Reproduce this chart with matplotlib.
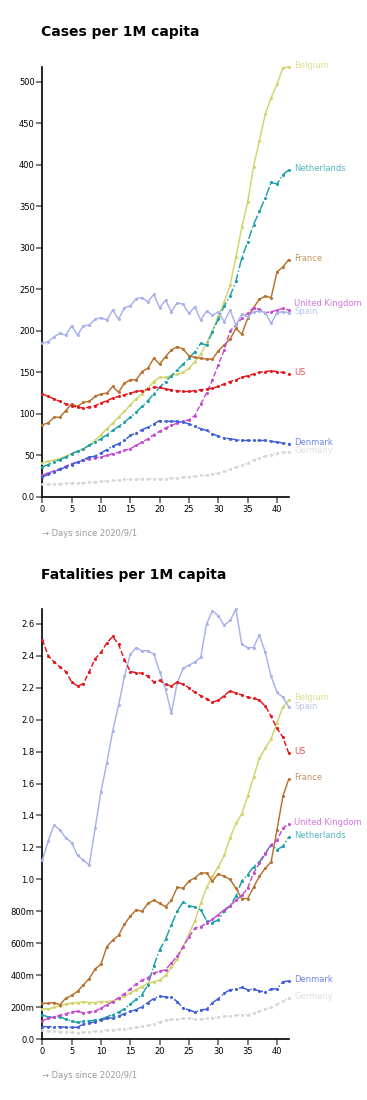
import numpy as np
import matplotlib
matplotlib.use("Agg")
import matplotlib.pyplot as plt
from matplotlib.ticker import FuncFormatter, MultipleLocator

days = np.arange(43)

countries = ["Belgium", "Netherlands", "France", "United Kingdom", "Spain", "US", "Denmark", "Germany"]

cases_belgium = [41, 43, 44, 46, 49, 52, 55, 58, 62, 68, 75, 82, 89, 96, 103, 111, 118, 124, 131, 139,
                 144, 144, 146, 148, 150, 155, 163, 172, 185, 200, 218, 235, 255, 289, 325, 355, 398,
                 429, 461, 481, 497, 517, 518]
cases_netherlands = [36, 39, 42, 45, 48, 52, 55, 58, 62, 66, 70, 75, 80, 85, 90, 96, 102, 109, 116, 124,
                     132, 139, 146, 153, 160, 167, 175, 185, 183, 199, 214, 230, 242, 260, 288, 307, 328,
                     344, 360, 379, 377, 388, 394]
cases_france = [87, 89, 96, 96, 104, 112, 109, 114, 115, 121, 124, 125, 133, 126, 137, 141, 141, 151, 155,
                167, 160, 169, 177, 181, 178, 170, 168, 167, 166, 166, 176, 183, 190, 203, 196, 215, 228,
                238, 242, 240, 271, 277, 286]
cases_uk = [26, 29, 31, 34, 37, 40, 42, 44, 46, 47, 48, 50, 52, 54, 56, 58, 62, 66, 70, 75, 79, 83, 86,
            89, 91, 93, 98, 112, 125, 141, 159, 177, 200, 207, 215, 221, 228, 226, 222, 223, 225, 227, 225]
cases_spain = [185, 187, 193, 197, 195, 206, 195, 206, 207, 214, 216, 213, 225, 214, 228, 230, 239, 240,
               235, 244, 228, 237, 223, 234, 232, 221, 229, 213, 224, 219, 223, 211, 225, 207, 220, 217,
               223, 224, 222, 209, 222, 223, 222]
cases_us = [124, 121, 118, 115, 112, 110, 108, 107, 108, 110, 113, 116, 119, 121, 123, 125, 127, 128, 130,
            132, 132, 130, 129, 128, 127, 127, 128, 129, 130, 131, 133, 136, 139, 141, 144, 146, 148, 150,
            151, 152, 151, 150, 148]
cases_denmark = [24, 27, 30, 33, 36, 39, 42, 45, 48, 49, 53, 57, 61, 64, 68, 74, 77, 81, 84, 88, 92, 91,
                 91, 91, 90, 88, 85, 82, 80, 76, 73, 71, 70, 69, 68, 68, 68, 68, 68, 67, 66, 65, 64]
cases_germany = [15, 15, 16, 16, 17, 17, 17, 17, 18, 18, 19, 19, 20, 20, 21, 21, 21, 22, 22, 22, 22, 22,
                 23, 23, 24, 24, 25, 26, 26, 27, 29, 31, 33, 36, 38, 41, 45, 47, 49, 51, 53, 54, 54]

fat_belgium = [0.19, 0.19, 0.20, 0.21, 0.22, 0.225, 0.23, 0.234, 0.23, 0.23, 0.236, 0.236, 0.24, 0.255,
               0.27, 0.29, 0.31, 0.33, 0.35, 0.36, 0.37, 0.40, 0.45, 0.50, 0.58, 0.66, 0.74, 0.85, 0.95,
               1.02, 1.08, 1.15, 1.26, 1.35, 1.41, 1.52, 1.64, 1.76, 1.82, 1.88, 1.98, 2.08, 2.12]
fat_netherlands = [0.152, 0.14, 0.14, 0.14, 0.125, 0.115, 0.105, 0.115, 0.115, 0.12, 0.125, 0.14, 0.155,
                   0.17, 0.19, 0.22, 0.25, 0.28, 0.34, 0.46, 0.56, 0.626, 0.716, 0.80, 0.86, 0.835, 0.827,
                   0.81, 0.743, 0.73, 0.747, 0.80, 0.835, 0.894, 0.99, 1.03, 1.08, 1.11, 1.165, 1.217,
                   1.186, 1.207, 1.265]
fat_france = [0.225, 0.225, 0.23, 0.215, 0.257, 0.274, 0.30, 0.34, 0.38, 0.44, 0.47, 0.58, 0.62, 0.65,
              0.72, 0.77, 0.81, 0.80, 0.85, 0.87, 0.85, 0.83, 0.87, 0.95, 0.945, 0.99, 1.01, 1.04, 1.04,
              0.99, 1.035, 1.02, 1.0, 0.945, 0.88, 0.88, 0.95, 1.02, 1.07, 1.11, 1.31, 1.52, 1.627]
fat_uk = [0.117, 0.13, 0.14, 0.15, 0.16, 0.17, 0.175, 0.165, 0.17, 0.175, 0.195, 0.215, 0.235, 0.26,
          0.285, 0.315, 0.345, 0.37, 0.385, 0.415, 0.425, 0.435, 0.476, 0.52, 0.58, 0.64, 0.695, 0.705,
          0.727, 0.75, 0.78, 0.81, 0.835, 0.87, 0.90, 0.945, 1.04, 1.10, 1.16, 1.217, 1.244, 1.32, 1.348]
fat_spain = [1.12, 1.24, 1.34, 1.31, 1.26, 1.23, 1.15, 1.12, 1.09, 1.32, 1.55, 1.73, 1.93, 2.09, 2.27,
             2.41, 2.45, 2.43, 2.43, 2.41, 2.30, 2.19, 2.04, 2.23, 2.32, 2.34, 2.36, 2.39, 2.60, 2.68,
             2.65, 2.59, 2.62, 2.69, 2.47, 2.45, 2.45, 2.53, 2.42, 2.27, 2.17, 2.14, 2.08]
fat_us = [2.50, 2.40, 2.36, 2.33, 2.30, 2.235, 2.21, 2.225, 2.30, 2.38, 2.42, 2.48, 2.52, 2.47, 2.375,
          2.30, 2.294, 2.29, 2.27, 2.235, 2.245, 2.22, 2.21, 2.235, 2.22, 2.20, 2.17, 2.15, 2.13, 2.11,
          2.12, 2.15, 2.18, 2.165, 2.155, 2.14, 2.135, 2.12, 2.085, 2.02, 1.945, 1.89, 1.79]
fat_denmark = [0.079, 0.079, 0.078, 0.078, 0.075, 0.075, 0.075, 0.095, 0.10, 0.11, 0.12, 0.13, 0.135,
               0.145, 0.16, 0.175, 0.185, 0.205, 0.23, 0.255, 0.27, 0.265, 0.262, 0.236, 0.194, 0.184,
               0.17, 0.184, 0.188, 0.23, 0.253, 0.288, 0.31, 0.313, 0.324, 0.31, 0.313, 0.303, 0.294,
               0.315, 0.315, 0.36, 0.365]
fat_germany = [0.055, 0.052, 0.05, 0.048, 0.045, 0.043, 0.042, 0.044, 0.047, 0.05, 0.054, 0.058, 0.06,
               0.062, 0.064, 0.068, 0.074, 0.08, 0.088, 0.097, 0.11, 0.118, 0.124, 0.128, 0.13, 0.13,
               0.128, 0.128, 0.13, 0.134, 0.14, 0.143, 0.146, 0.15, 0.152, 0.155, 0.165, 0.175, 0.19,
               0.20, 0.22, 0.24, 0.26]

cases = [cases_belgium, cases_netherlands, cases_france, cases_uk, cases_spain, cases_us,
         cases_denmark, cases_germany]
fatalities = [fat_belgium, fat_netherlands, fat_france, fat_uk, fat_spain, fat_us, fat_denmark, fat_germany]

colors = {"Belgium": "#d3d36b", "Netherlands": "#1b9fa8", "France": "#b8702e",
          "United Kingdom": "#c34ad1", "Spain": "#a7b1ec", "US": "#e8141c",
          "Denmark": "#3e5fd9", "Germany": "#d6d6d6"}
styles = {"Belgium": "-", "Netherlands": "-.", "France": "-", "United Kingdom": "--",
          "Spain": "-", "US": "--", "Denmark": "-.", "Germany": ":"}
label_nudge = {"cases": {"United Kingdom": 4}, "fat": {"Belgium": 1, "Spain": -1}}

fig = plt.figure(figsize=(3.67, 11.0), dpi=100)


def panel(rect, series, title, ymax, fmt, step, key):
    ax = fig.add_axes(rect)
    for name, vals in zip(countries, series):
        c = colors[name]
        ax.plot(days, vals, color=c, ls=styles[name], lw=1.05, marker="o", ms=2.2,
                mew=0, zorder=3, clip_on=False)
        ax.annotate(name, (days[-1], vals[-1]), xytext=(4, 1 + label_nudge[key].get(name, 0)),
                    textcoords="offset points", va="center", ha="left", fontsize=6,
                    color=c, alpha=0.75, annotation_clip=False)
    ax.set_xlim(0, 42)
    ax.set_ylim(0, ymax)
    ax.xaxis.set_major_locator(MultipleLocator(5))
    ax.yaxis.set_major_locator(MultipleLocator(step))
    ax.yaxis.set_major_formatter(FuncFormatter(fmt))
    for s in ["top", "right"]:
        ax.spines[s].set_visible(False)
    for s in ["left", "bottom"]:
        ax.spines[s].set_linewidth(1.2)
    ax.tick_params(axis="both", labelsize=6, length=4, width=1.2, color="#666666", pad=1.5)
    ax.set_title(title, loc="left", fontsize=10, fontweight="bold", pad=22, x=-0.005)
    ax.text(0, -0.085, "\u2192 Days since 2020/9/1", transform=ax.transAxes, fontsize=6,
            color="#9a9a9a", ha="left", va="center")
    return ax


def fmt_cases(v, pos):
    return "0.0" if v == 0 else "%d" % v


def fmt_fat(v, pos):
    if abs(v) < 1e-9:
        return "0.0"
    if v < 0.999:
        return "%dm" % round(v * 1000)
    return "%.1f" % v


panel([0.1153, 0.5483, 0.6714, 0.3908], cases, "Cases per 1M capita", 518, fmt_cases, 50, "cases")
panel([0.1153, 0.0552, 0.6714, 0.3909], fatalities, "Fatalities per 1M capita", 2.69, fmt_fat, 0.2, "fat")

fig.savefig("out.png", dpi=100)
